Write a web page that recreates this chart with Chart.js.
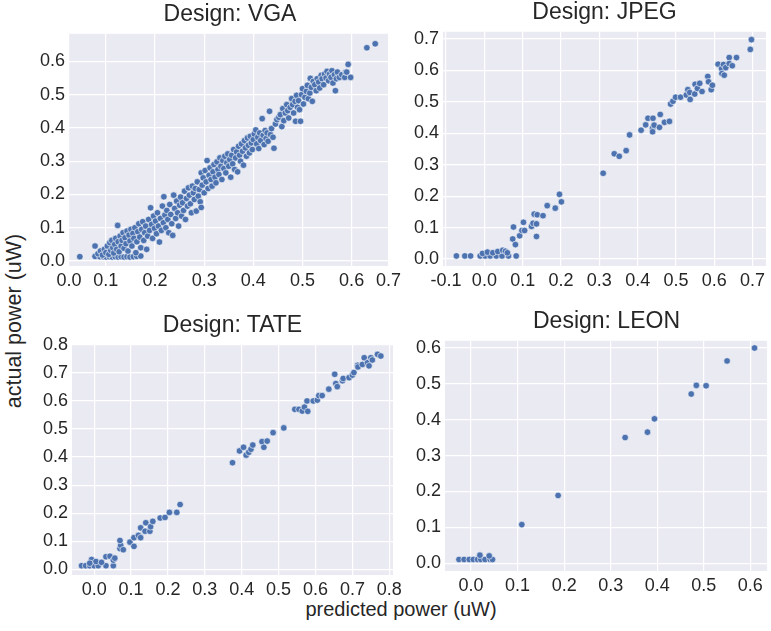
<!DOCTYPE html>
<html lang="en">
<head>
<meta charset="UTF-8" />
<title>Predicted vs actual power</title>
<script src="https://cdn.jsdelivr.net/npm/chart.js"></script>
<style>
  body { margin: 0; background: #fff; font-family: "Liberation Sans", Arial, sans-serif; color: #262626; }
  #fig { position: relative; width: 771px; height: 631px; overflow: hidden; }
  .panel { position: absolute; }
  .title { position: absolute; font-size: 23px; line-height: 23px; text-align: center; white-space: nowrap; }
  .axlabel { position: absolute; font-size: 20px; line-height: 20px; white-space: nowrap; }
</style>
</head>
<body>
<div id="fig">
  <div class="axlabel" id="ylab" style="left:-86px; top:311px; width:200px; text-align:center; font-size:21.5px; transform:rotate(-90deg);">actual power (uW)</div>
  <div class="axlabel" style="left:251px; top:599px; width:300px; text-align:center;">predicted power (uW)</div>
</div>

<script>
// ---- data: [predicted, actual] pairs ----
const vgaPoints = [
  [0.047,0.013],[0.078,0.014],[0.088,0.013],[0.095,0.013],[0.101,0.012],[0.107,0.013],[0.113,0.012],[0.119,0.013],
  [0.125,0.012],[0.131,0.013],[0.137,0.012],[0.143,0.013],[0.149,0.012],[0.156,0.013],[0.163,0.014],[0.171,0.015],
  [0.078,0.045],[0.084,0.022],[0.089,0.030],[0.093,0.018],[0.097,0.035],[0.100,0.025],[0.103,0.045],[0.106,0.020],
  [0.108,0.055],[0.110,0.032],[0.112,0.062],[0.114,0.040],[0.116,0.024],[0.118,0.050],[0.120,0.068],[0.122,0.035],
  [0.124,0.107],[0.125,0.058],[0.127,0.028],[0.129,0.075],[0.131,0.045],[0.133,0.062],[0.135,0.085],[0.137,0.038],
  [0.139,0.070],[0.141,0.052],[0.143,0.090],[0.145,0.030],[0.147,0.078],[0.149,0.060],[0.151,0.095],[0.153,0.045],
  [0.155,0.083],[0.157,0.068],[0.159,0.100],[0.161,0.025],[0.163,0.058],[0.165,0.088],[0.167,0.112],[0.169,0.072],
  [0.171,0.040],[0.173,0.095],[0.175,0.118],[0.177,0.062],[0.179,0.085],[0.181,0.105],[0.183,0.035],[0.185,0.075],
  [0.187,0.125],[0.189,0.092],[0.191,0.160],[0.193,0.110],[0.195,0.068],[0.197,0.135],[0.199,0.098],[0.201,0.120],
  [0.203,0.082],[0.205,0.145],[0.207,0.105],[0.209,0.057],[0.211,0.128],[0.213,0.092],[0.215,0.165],[0.217,0.115],
  [0.218,0.193],[0.220,0.138],[0.222,0.100],[0.224,0.152],[0.226,0.125],[0.228,0.085],[0.230,0.170],[0.232,0.140],
  [0.234,0.112],[0.236,0.077],[0.238,0.198],[0.240,0.158],[0.242,0.128],[0.244,0.180],[0.246,0.145],[0.248,0.105],
  [0.250,0.168],[0.252,0.192],[0.254,0.135],[0.256,0.175],[0.258,0.152],[0.260,0.210],[0.262,0.125],[0.264,0.188],
  [0.266,0.165],[0.268,0.220],[0.270,0.198],[0.272,0.172],[0.274,0.145],[0.276,0.225],[0.278,0.205],[0.280,0.185],
  [0.282,0.218],[0.284,0.150],[0.286,0.238],[0.288,0.195],[0.290,0.215],[0.292,0.178],[0.294,0.161],[0.294,0.265],
  [0.296,0.228],[0.298,0.250],[0.300,0.205],[0.302,0.272],[0.304,0.238],[0.306,0.302],[0.308,0.218],[0.310,0.258],
  [0.312,0.280],[0.314,0.245],[0.316,0.225],[0.318,0.268],[0.320,0.290],[0.322,0.252],[0.324,0.235],[0.326,0.298],
  [0.328,0.275],[0.330,0.260],[0.332,0.310],[0.334,0.285],[0.336,0.245],[0.338,0.302],[0.340,0.278],[0.342,0.315],
  [0.344,0.265],[0.346,0.295],[0.348,0.322],[0.350,0.285],[0.352,0.305],[0.354,0.252],[0.356,0.318],[0.358,0.292],
  [0.360,0.335],[0.362,0.275],[0.364,0.310],[0.366,0.328],[0.368,0.268],[0.370,0.345],[0.372,0.318],[0.374,0.300],
  [0.376,0.352],[0.378,0.330],[0.380,0.288],[0.382,0.362],[0.384,0.340],[0.386,0.315],[0.388,0.370],[0.390,0.348],
  [0.392,0.325],[0.394,0.375],[0.396,0.355],[0.398,0.335],[0.400,0.365],[0.402,0.382],[0.405,0.394],[0.407,0.352],
  [0.409,0.372],[0.411,0.338],[0.413,0.385],[0.415,0.362],[0.418,0.428],[0.420,0.378],[0.422,0.350],[0.424,0.392],
  [0.426,0.368],[0.428,0.385],[0.430,0.360],[0.433,0.450],[0.435,0.380],[0.437,0.398],[0.440,0.372],[0.442,0.339],
  [0.445,0.412],[0.448,0.425],[0.452,0.432],[0.455,0.440],[0.458,0.404],[0.460,0.458],[0.462,0.422],[0.465,0.445],
  [0.468,0.470],[0.470,0.452],[0.472,0.430],[0.475,0.462],[0.478,0.488],[0.480,0.470],[0.482,0.445],[0.485,0.480],
  [0.486,0.420],[0.488,0.498],[0.490,0.462],[0.492,0.482],[0.494,0.455],[0.496,0.420],[0.498,0.500],[0.500,0.518],
  [0.502,0.472],[0.505,0.492],[0.508,0.510],[0.510,0.528],[0.512,0.488],[0.515,0.505],[0.516,0.549],[0.518,0.522],
  [0.520,0.480],[0.522,0.540],[0.525,0.530],[0.528,0.512],[0.530,0.548],[0.533,0.538],[0.535,0.520],[0.538,0.558],
  [0.540,0.548],[0.543,0.530],[0.545,0.562],[0.548,0.550],[0.550,0.570],[0.553,0.542],[0.555,0.562],[0.558,0.552],
  [0.560,0.572],[0.562,0.535],[0.565,0.560],[0.567,0.512],[0.569,0.548],[0.571,0.568],[0.575,0.552],[0.580,0.560],
  [0.586,0.552],[0.588,0.568],[0.590,0.568],[0.593,0.591],[0.598,0.552],[0.631,0.641],[0.648,0.653]
];

const jpegPoints = [
  [-0.073,0.010],[-0.051,0.010],[-0.036,0.010],[-0.011,0.010],[0.002,0.010],[0.015,0.010],[0.031,0.010],[0.046,0.010],
  [0.063,0.010],[0.083,0.010],[-0.005,0.018],[0.008,0.022],[0.022,0.020],[0.035,0.024],[0.048,0.028],[0.055,0.025],
  [0.060,0.020],[0.076,0.102],[0.074,0.064],[0.081,0.046],[0.092,0.074],[0.098,0.091],[0.102,0.117],[0.105,0.091],
  [0.123,0.104],[0.127,0.114],[0.130,0.143],[0.136,0.112],[0.136,0.072],[0.138,0.141],[0.153,0.138],[0.164,0.170],
  [0.185,0.162],[0.196,0.206],[0.201,0.182],[0.310,0.273],[0.339,0.335],[0.352,0.327],[0.370,0.345],[0.379,0.395],
  [0.409,0.410],[0.421,0.427],[0.427,0.448],[0.439,0.416],[0.439,0.405],[0.440,0.448],[0.443,0.426],[0.457,0.419],
  [0.459,0.460],[0.470,0.435],[0.483,0.438],[0.486,0.493],[0.492,0.502],[0.499,0.515],[0.512,0.515],[0.527,0.522],
  [0.531,0.539],[0.536,0.530],[0.537,0.508],[0.549,0.525],[0.550,0.556],[0.556,0.543],[0.562,0.559],[0.568,0.533],
  [0.583,0.581],[0.585,0.564],[0.592,0.539],[0.595,0.553],[0.610,0.620],[0.619,0.606],[0.620,0.590],[0.624,0.619],
  [0.626,0.585],[0.630,0.609],[0.639,0.641],[0.639,0.622],[0.647,0.615],[0.658,0.641],[0.694,0.667],[0.697,0.698]
];

const tatePoints = [
  [-0.034,0.013],[-0.023,0.013],[-0.012,0.013],[0.000,0.013],[0.011,0.013],[0.032,0.013],[0.052,0.013],[-0.007,0.035],
  [0.005,0.028],[-0.012,0.022],[0.020,0.025],[0.032,0.045],[0.043,0.047],[0.052,0.033],[0.056,0.040],[0.070,0.074],
  [0.072,0.086],[0.070,0.103],[0.079,0.070],[0.097,0.097],[0.108,0.113],[0.108,0.082],[0.120,0.121],[0.126,0.113],
  [0.126,0.148],[0.138,0.136],[0.140,0.166],[0.151,0.136],[0.153,0.152],[0.159,0.171],[0.179,0.183],[0.192,0.185],
  [0.204,0.203],[0.224,0.203],[0.233,0.231],[0.375,0.380],[0.394,0.422],[0.405,0.435],[0.412,0.407],[0.419,0.417],
  [0.425,0.428],[0.430,0.443],[0.455,0.455],[0.460,0.435],[0.469,0.457],[0.485,0.487],[0.514,0.504],[0.544,0.570],
  [0.555,0.570],[0.564,0.564],[0.570,0.578],[0.579,0.563],[0.577,0.600],[0.594,0.600],[0.605,0.603],[0.609,0.619],
  [0.618,0.619],[0.636,0.642],[0.652,0.695],[0.655,0.662],[0.659,0.651],[0.673,0.672],[0.675,0.680],[0.691,0.683],
  [0.700,0.692],[0.704,0.701],[0.714,0.727],[0.715,0.721],[0.727,0.730],[0.732,0.754],[0.741,0.736],[0.745,0.725],
  [0.750,0.754],[0.754,0.746],[0.768,0.766],[0.777,0.760]
];

const leonPoints = [
  [-0.026,0.011],[-0.015,0.011],[-0.004,0.011],[0.005,0.011],[0.014,0.011],[0.021,0.011],[0.030,0.011],[0.041,0.011],
  [0.046,0.011],[0.039,0.021],[0.019,0.023],[0.109,0.108],[0.187,0.189],[0.331,0.350],[0.379,0.365],[0.394,0.402],
  [0.473,0.471],[0.484,0.495],[0.505,0.494],[0.550,0.563],[0.609,0.599]
];

// tick values per axis (VGA x keeps its edge labels as in the picture)
const vgaXTicks = [0.025, 0.1, 0.2, 0.3, 0.4, 0.5, 0.6, 0.675];
const vgaYTicks = [0.0, 0.1, 0.2, 0.3, 0.4, 0.5, 0.6];
const jpegXTicks = [-0.1, 0.0, 0.1, 0.2, 0.3, 0.4, 0.5, 0.6, 0.7];
const jpegYTicks = [0.0, 0.1, 0.2, 0.3, 0.4, 0.5, 0.6, 0.7];
const tateXTicks = [0.0, 0.1, 0.2, 0.3, 0.4, 0.5, 0.6, 0.7, 0.8];
const tateYTicks = [0.0, 0.1, 0.2, 0.3, 0.4, 0.5, 0.6, 0.7, 0.8];
const leonXTicks = [0.0, 0.1, 0.2, 0.3, 0.4, 0.5, 0.6];
const leonYTicks = [0.0, 0.1, 0.2, 0.3, 0.4, 0.5, 0.6];

const FONT = '"Liberation Sans", Arial, sans-serif';
const TEXT = '#262626';

// layout: canvas box [left, top, width, height], y-axis width, right padding
const panels = [
  { title: 'Design: VGA',  pts: vgaPoints,  xr: [0.025, 0.675],  yr: [-0.015, 0.683], xt: vgaXTicks,  yt: vgaYTicks,  box: [20, 19, 385, 277],  yw: 49, pr: 14 },
  { title: 'Design: JPEG', pts: jpegPoints, xr: [-0.108, 0.735], yr: [-0.022, 0.723], xt: jpegXTicks, yt: jpegYTicks, box: [401, 17, 370, 279], yw: 42, pr: 5 },
  { title: 'Design: TATE', pts: tatePoints, xr: [-0.06, 0.81],   yr: [-0.02, 0.80],   xt: tateXTicks, yt: tateYTicks, box: [22, 330, 385, 275], yw: 50, pr: 14 },
  { title: 'Design: LEON', pts: leonPoints, xr: [-0.056, 0.636], yr: [-0.021, 0.619], xt: leonXTicks, yt: leonYTicks, box: [403, 326, 368, 275], yw: 42, pr: 3 }
];

const plotBg = {
  id: 'plotBg',
  beforeDraw(chart) {
    const { ctx, chartArea: a } = chart;
    ctx.save();
    ctx.fillStyle = '#eaeaf2';
    ctx.fillRect(a.left, a.top, a.right - a.left, a.bottom - a.top);
    ctx.restore();
  }
};

const fig = document.getElementById('fig');

function axis(range, ticks, fit) {
  return {
    type: 'linear',
    min: range[0],
    max: range[1],
    afterBuildTicks: s => { s.ticks = ticks.map(v => ({ value: v })); },
    afterFit: fit,
    grid: { color: '#ffffff', lineWidth: 1.2, drawTicks: false },
    border: { display: false },
    ticks: {
      color: TEXT,
      font: { family: FONT, size: 18 },
      padding: 4,
      maxRotation: 0,
      autoSkip: false,
      callback: v => v.toFixed(1)
    }
  };
}

panels.forEach(p => {
  const [left, top, w, h] = p.box;
  const wrap = document.createElement('div');
  wrap.className = 'panel';
  wrap.style.cssText = `left:${left}px;top:${top}px;width:${w}px;height:${h}px;`;
  const cv = document.createElement('canvas');
  cv.width = w; cv.height = h;
  wrap.appendChild(cv);
  fig.appendChild(wrap);

  // title centred over the plot area
  const areaL = left + p.yw, areaR = left + w - p.pr;
  const t = document.createElement('div');
  t.className = 'title';
  t.textContent = p.title;
  t.style.cssText = `left:${areaL}px;width:${areaR - areaL}px;top:${top - 17}px;`;
  fig.appendChild(t);

  new Chart(cv, {
    type: 'scatter',
    data: {
      datasets: [{
        data: p.pts.map(([x, y]) => ({ x, y })),
        backgroundColor: '#4c72b0',
        borderColor: '#ffffff',
        borderWidth: 0.6,
        pointRadius: 3.3,
        pointHoverRadius: 3.3
      }]
    },
    options: {
      responsive: false,
      animation: false,
      events: [],
      layout: { padding: { top: 12, right: p.pr, left: 0, bottom: 0 } },
      plugins: { legend: { display: false }, tooltip: { enabled: false } },
      scales: {
        x: axis(p.xr, p.xt, s => { s.height = 30; }),
        y: axis(p.yr, p.yt, s => { s.width = p.yw; })
      }
    },
    plugins: [plotBg]
  });
});
</script>
</body>
</html>
